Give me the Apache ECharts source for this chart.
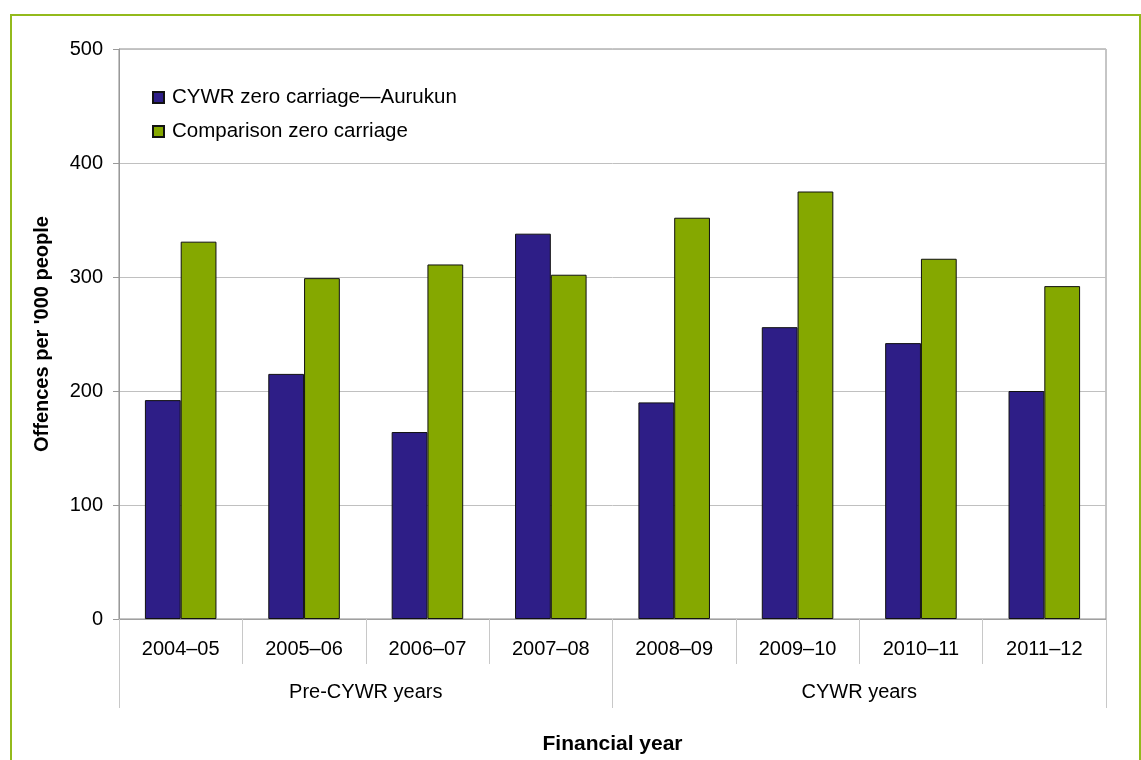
<!DOCTYPE html>
<html>
<head>
<meta charset="utf-8">
<script src="https://cdn.jsdelivr.net/npm/echarts@6/dist/echarts.min.js"></script>
<style>
html,body{margin:0;padding:0;background:#fff;}
#frame{position:absolute;left:10px;top:14px;width:1127px;height:760px;border-left:2px solid #93ba1c;border-top:2px solid #93ba1c;border-right:2px solid #93ba1c;}
#chart{position:absolute;left:0;top:0;width:1141px;height:760px;}
</style>
</head>
<body>
<div id="frame"></div>
<div id="chart"></div>
<script>
// 数据
let years = ['2004–05', '2005–06', '2006–07', '2007–08', '2008–09', '2009–10', '2010–11', '2011–12']
let periods = ['Pre-CYWR years', 'CYWR years']
let aurukun = [192, 215, 164, 338, 190, 256, 242, 200]
let comparison = [331, 299, 311, 302, 352, 375, 316, 292]

let font = 'Liberation Sans, Arial, sans-serif'
let chart = echarts.init(document.getElementById('chart'))

let option = {
    animation: false,
    textStyle: {
        fontFamily: font,
        color: '#000'
    },
    grid: {
        left: 119,
        right: 35,
        top: 49,
        bottom: 141,
        show: true,
        borderColor: '#8c8c8c',
        borderWidth: 1
    },
    legend: {
        orient: 'vertical',
        left: 147,
        top: 82,
        itemWidth: 11,
        itemHeight: 11,
        itemGap: 13,
        icon: 'rect',
        textStyle: {
            fontFamily: font,
            fontSize: 20.5,
            color: '#000',
            padding: [0, 0, 0, 3]
        },
        data: ['CYWR zero carriage—Aurukun', 'Comparison zero carriage']
    },
    xAxis: [
        {
            type: 'category',
            data: years,
            position: 'bottom',
            axisLine: {
                lineStyle: { color: '#a0a0a0' }
            },
            axisTick: {
                show: true,
                interval: 0,
                length: 45,
                lineStyle: { color: '#c8c8c8' }
            },
            axisLabel: {
                interval: 0,
                margin: 20,
                fontSize: 20,
                color: '#000'
            }
        },
        {
            type: 'category',
            data: periods,
            position: 'bottom',
            name: 'Financial year',
            nameLocation: 'middle',
            nameGap: 115,
            nameTextStyle: {
                fontFamily: font,
                fontSize: 21,
                fontWeight: 'bold',
                color: '#000'
            },
            axisLine: { show: false },
            axisTick: {
                show: true,
                interval: 0,
                length: 89,
                lineStyle: { color: '#c8c8c8' }
            },
            axisLabel: {
                interval: 0,
                margin: 63,
                fontSize: 20,
                color: '#000'
            }
        }
    ],
    yAxis: {
        type: 'value',
        min: 0,
        max: 500,
        interval: 100,
        name: 'Offences per \'000 people',
        nameLocation: 'middle',
        nameGap: 67,
        nameTextStyle: {
            fontFamily: font,
            fontSize: 20,
            fontWeight: 'bold',
            color: '#000'
        },
        axisLine: {
            show: true,
            lineStyle: { color: '#999' }
        },
        axisTick: {
            show: true,
            length: 6,
            lineStyle: { color: '#999' }
        },
        axisLabel: {
            margin: 16,
            fontSize: 20,
            color: '#000'
        },
        splitLine: {
            lineStyle: { color: '#c0c0c0' }
        }
    },
    series: [
        {
            name: 'CYWR zero carriage—Aurukun',
            type: 'bar',
            data: aurukun,
            barGap: '0%',
            barCategoryGap: '42%',
            itemStyle: {
                color: '#2e1e87',
                borderColor: '#111',
                borderWidth: 1
            }
        },
        {
            name: 'Comparison zero carriage',
            type: 'bar',
            data: comparison,
            barGap: '0%',
            barCategoryGap: '42%',
            itemStyle: {
                color: '#85a800',
                borderColor: '#111',
                borderWidth: 1
            }
        }
    ]
}

chart.setOption(option)
</script>
</body>
</html>
